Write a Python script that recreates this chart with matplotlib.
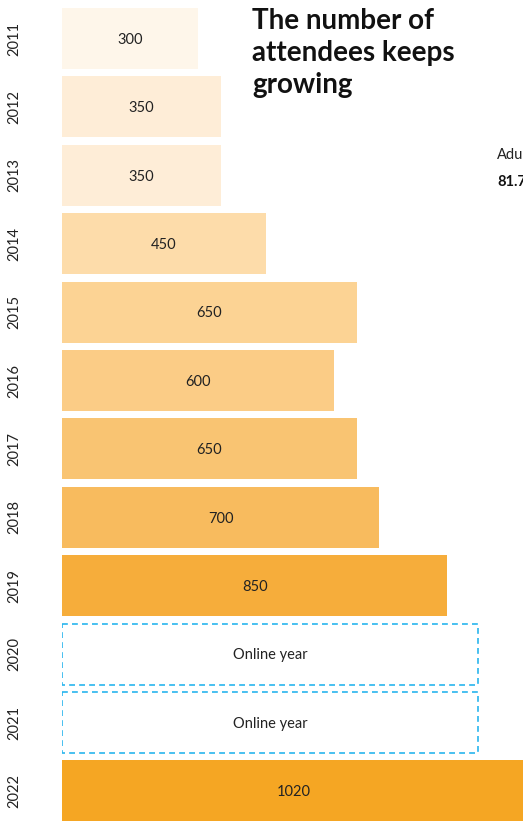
import matplotlib.pyplot as plt
import numpy as np

# Data
years = ['2011', '2012', '2013', '2014', '2015', '2016', '2017', '2018', '2019', '2020', '2021', '2022']
attendees = [300, 350, 350, 450, 650, 600, 650, 700, 850, None, None, 1020]
online_width = 918
bar_colors = ['#FEF6EA', '#FEEDD7', '#FEEDD7', '#FDDCAA', '#FCD394', '#FBCC86',
              '#F9C472', '#F8BB5E', '#F6AD3B', 'none', 'none', '#F5A623']

W, H = 523, 821
fig = plt.figure(figsize=(W / 100, H / 100), dpi=100)

# axes: x from pixel 62 to right edge, full height
ax = fig.add_axes([62 / W, 0, 1 - 62 / W, 1])
pitch = 68.4
first = 38.5
ax.set_ylim((H - first) / pitch, -first / pitch)
ax.set_xlim(0, (W - 62) / 0.4535)
ax.axis('off')

for i, (yr, val, col) in enumerate(zip(years, attendees, bar_colors)):
    if val is None:
        ax.barh(i, online_width, height=0.89, color='none', edgecolor='#29B5EE',
                linestyle=(0, (3.5, 2.5)), linewidth=1.2)
        ax.text(online_width / 2, i + 0.02, 'Online year', ha='center', va='center',
                fontsize=10.5, color='#222222', family='Lato')
    else:
        ax.barh(i, val, height=0.89, color=col, linewidth=0)
        ax.text(val / 2, i + 0.02, str(val), ha='center', va='center',
                fontsize=10.5, color='#222222', family='Lato')
    # year labels on the left
    fig.text(14 / W, 1 - (first + i * pitch) / H, yr, rotation=90, ha='center', va='center',
             fontsize=10.5, color='#222222', family='Lato')

# title
fig.text(252 / W, 1 - 8 / H, 'The number of\nattendees keeps\ngrowing', ha='left', va='top',
         fontsize=20, fontweight='bold', color='#111111', family='Lato', linespacing=1.28)

# side annotation, cut off by the right edge as in the original
fig.text(497 / W, 1 - 155 / H, 'Adults', ha='left', va='center', fontsize=10.5,
         color='#222222', family='Lato')
fig.text(497 / W, 1 - 182 / H, '81.7%', ha='left', va='center', fontsize=10.5,
         fontweight='bold', color='#111111', family='Lato')

fig.savefig('out.png', dpi=100)
